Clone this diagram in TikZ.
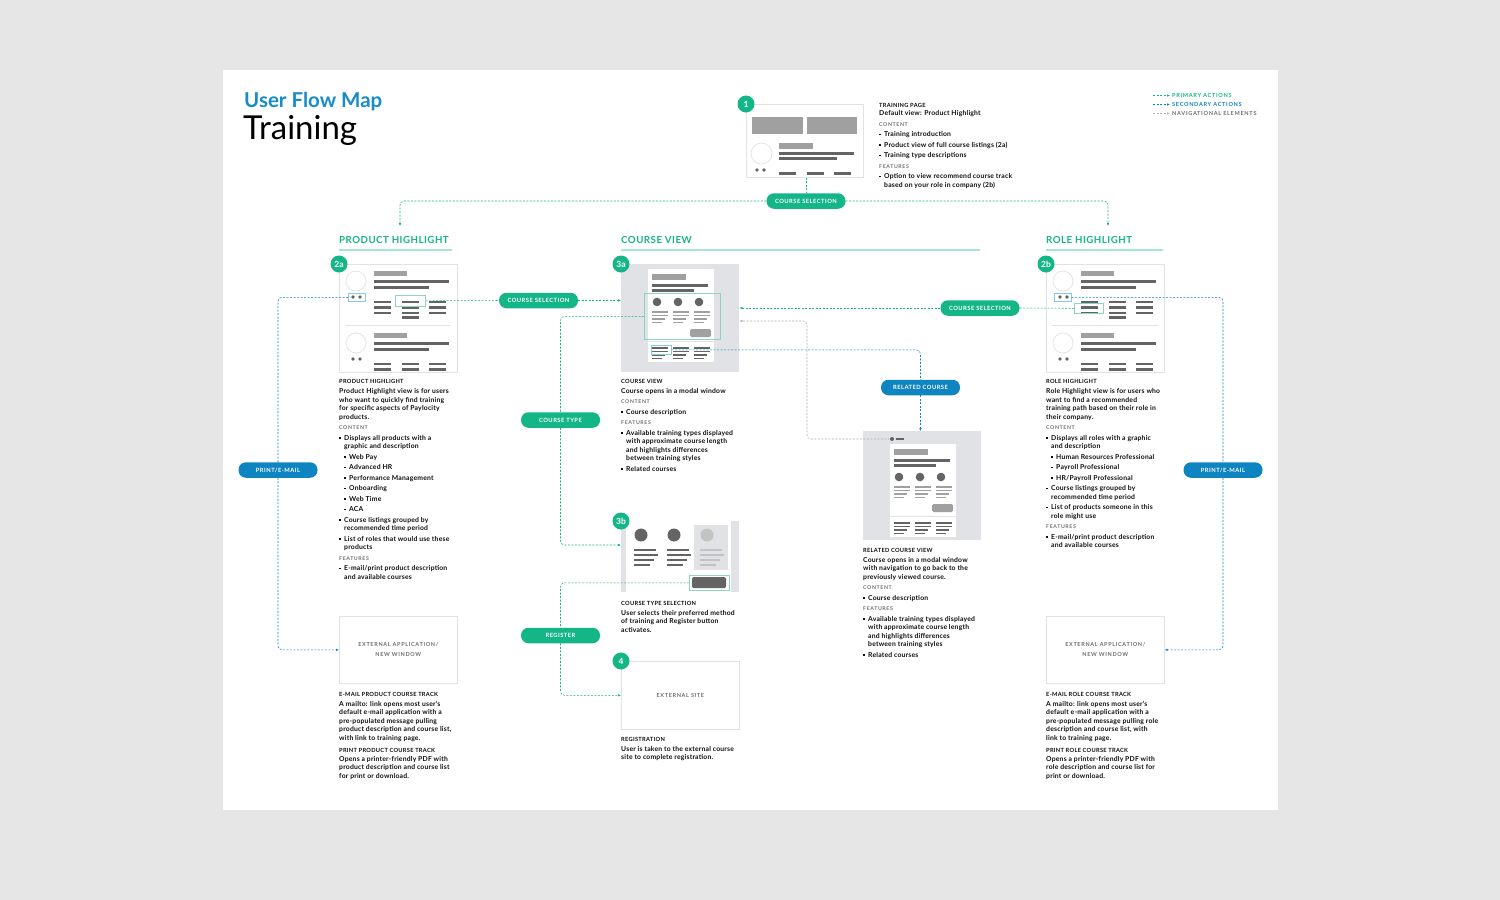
\documentclass[tikz,border=0pt]{standalone}
\usepackage{fontspec}
\setmainfont{Lato}
\newfontfamily\bodyfont[LetterSpace=3]{Lato}
\newfontfamily\capsfont[LetterSpace=5]{Lato}
\newfontfamily\pillfont[LetterSpace=8]{Lato}
\newfontfamily\widecapsfont[LetterSpace=12]{Lato}
\usetikzlibrary{arrows.meta,positioning,calc}
\definecolor{bggray}{RGB}{230,230,230}
\definecolor{flowgreen}{RGB}{20,181,134}
\definecolor{flowblue}{RGB}{14,132,192}
\definecolor{titleblue}{RGB}{22,140,200}
\definecolor{navgray}{RGB}{175,175,175}
\definecolor{mockdark}{RGB}{100,100,100}
\definecolor{mockmid}{RGB}{160,160,160}
\definecolor{mocklite}{RGB}{195,195,195}
\definecolor{mockring}{RGB}{228,228,228}
\definecolor{pageline}{RGB}{226,226,226}
\definecolor{modalbg}{RGB}{225,226,230}
\definecolor{headline}{RGB}{165,230,210}
\definecolor{labelgray}{RGB}{112,112,112}
\definecolor{extgray}{RGB}{110,110,110}
\definecolor{textdark}{RGB}{15,15,15}
\definecolor{hlgreen}{RGB}{140,215,195}
\definecolor{hlblue}{RGB}{140,200,230}

\newcommand{\bl}{\makebox[5pt][l]{\rule[1.5pt]{1.7pt}{1.7pt}}}
\newcommand{\ind}{\hspace*{5pt}}
\newcommand{\nx}{\\[2pt]}
\newcommand{\blockhead}[1]{{\capsfont\bfseries\fontsize{5.7}{8.5}\selectfont #1}}
\newcommand{\blocklabel}[1]{{\widecapsfont\bfseries\fontsize{5.2}{8.5}\selectfont\color{labelgray}#1}}

\newcommand{\hlmock}{%
  \foreach \rowy/\nbars in {0/3,62/2}{%
    \draw[mockring, line width=0.8pt] (17,17+\rowy) circle (10pt);
    \fill[mockdark] (14,33+\rowy) circle (1.8pt) (21,33+\rowy) circle (1.8pt);
    \fill[mockmid] (35,7+\rowy) rectangle (68,12+\rowy);
    \fill[mockdark] (35,16+\rowy) rectangle (110,18.5+\rowy);
    \fill[mockdark] (35,22+\rowy) rectangle (90,24.5+\rowy);
    \foreach \cx in {35,63,90}
      \foreach \bi in {1,...,\nbars}
        \fill[mockdark] (\cx,31+5.5*\bi+\rowy) rectangle ++(17,2.8);
  }
  \fill[mockdark] (63,52) rectangle ++(17,2.8);
  \draw[mockring, line width=0.8pt] (6,61) -- (112,61);
}

\newcommand{\modalcard}{%
  \fill[white] (0,0) rectangle (66,93);
  \fill[mockmid] (4,5) rectangle (38,11);
  \fill[mockdark] (4,15) rectangle (60,17.5);
  \fill[mockdark] (4,20) rectangle (46,22.5);
  \foreach \cx in {4,25,46}{%
    \fill[mockdark] (\cx+5,33) circle (4.3pt);
    \foreach \ly/\lw in {42/16,45.5/16,49/13,52.5/10}
      \fill[mockmid] (\cx,\ly) rectangle ++(\lw,1.8);
    \foreach \ly/\lw in {78/16,81.5/16,85/13,88.5/10}
      \fill[mockdark] (\cx,\ly) rectangle ++(\lw,1.8);
  }
  \fill[mockmid, rounded corners=1.5pt] (42,60) rectangle (63,68);
  \draw[modalbg, line width=0.8pt] (0,72) -- (66,72);
}

\begin{document}
\begin{tikzpicture}[x=1pt, y=-1pt,
  pagebox/.style={draw=pageline, line width=0.7pt, fill=white, anchor=north west, inner sep=0pt},
  modalbox/.style={fill=modalbg, anchor=north west, inner sep=0pt},
  badge/.style={circle, fill=flowgreen, text=white, minimum size=17pt, inner sep=0pt,
                font=\bfseries\fontsize{8.5}{9}\selectfont},
  pill/.style={rounded corners=7.5pt, minimum width=79pt, minimum height=15.5pt, inner sep=0pt,
               text=white, font=\pillfont\bfseries\fontsize{5.8}{6}\selectfont},
  sechead/.style={anchor=base west, inner sep=0pt, text=flowgreen,
                  font=\capsfont\bfseries\fontsize{9.7}{11}\selectfont},
  headrule/.style={draw=headline, line width=1.2pt},
  desc/.style={anchor=north west, align=left, inner sep=0pt, text=textdark,
               font=\bodyfont\bfseries\fontsize{6.8}{8.5}\selectfont},
  hlbox/.style={draw, line width=0.6pt, anchor=north west, inner sep=0pt},
  extlabel/.style={align=center, text=extgray, font=\widecapsfont\bfseries\fontsize{5.5}{10}\selectfont},
  flow/.style={dash pattern=on 2pt off 1.5pt, line width=0.55pt, rounded corners=4pt},
  primary/.style={flow, draw=flowgreen},
  secondary/.style={flow, draw=flowblue},
  navigation/.style={flow, draw=navgray},
  tip/.style={-{Latex[length=3pt,width=2.6pt]}},
  legend/.style={anchor=west, inner sep=0pt, font=\widecapsfont\bfseries\fontsize{5.6}{6}\selectfont}
]
\useasboundingbox (0,0) rectangle (1500,900);
\fill[bggray] (0,0) rectangle (1500,900);
\fill[white] (223,70) rectangle (1278,810);

\node[anchor=base west, inner sep=0pt, text=titleblue, font=\bfseries\fontsize{20.5}{24}\selectfont]
  (title) at (244,107) {User Flow Map};
\node[anchor=base west, inner sep=0pt, text=black, font=\fontsize{33}{38}\selectfont]
  (subtitle) at (243,139) {Training};

\node[legend, text=flowgreen] (lg-primary) at (1172,95.5) {PRIMARY ACTIONS};
\node[legend, text=flowblue] (lg-secondary) at (1172,104.5) {SECONDARY ACTIONS};
\node[legend, text=labelgray] (lg-nav) at (1172,113.5) {NAVIGATIONAL ELEMENTS};
\coordinate (lg-p0) at (1153,95.5);
\coordinate (lg-s0) at (1153,104.5);
\coordinate (lg-n0) at (1153,113.5);
\draw[primary, tip, shorten >=2pt] (lg-p0) -- (lg-primary.west);
\draw[secondary, tip, shorten >=2pt] (lg-s0) -- (lg-secondary.west);
\draw[navigation, tip, shorten >=2pt] (lg-n0) -- (lg-nav.west);

% training page
\node[pagebox, minimum width=117pt, minimum height=73pt] (tp) at (746,104) {};
\begin{scope}[shift={(746,104)}]
  \fill[mockmid] (6,13) rectangle (57,30);
  \fill[mockmid] (61,13) rectangle (111,30);
  \draw[mockring, line width=0.8pt] (15.5,49.5) circle (10.5pt);
  \fill[mockdark] (11,66) circle (1.8pt) (18,66) circle (1.8pt);
  \fill[mockmid] (33,39) rectangle (67,45);
  \fill[mockdark] (33,48) rectangle (108,50.5);
  \fill[mockdark] (33,53) rectangle (91,55.5);
  \foreach \cx in {33,61,88} \fill[mockdark] (\cx,68) rectangle ++(17,2.5);
\end{scope}
\node[badge] (b1) at (tp.north west) {1};
\node[desc] (tp-txt) at (879,103) {\blockhead{TRAINING PAGE}\\
  Default view: Product Highlight\nx
  \blocklabel{CONTENT}\nx
  \bl Training introduction\nx
  \bl Product view of full course listings (2a)\nx
  \bl Training type descriptions\nx
  \blocklabel{FEATURES}\nx
  \bl Option to view recommend course track\\
  \ind based on your role in company (2b)};

% section headers
\node[sechead] (hd-ph) at (339,243.5) {PRODUCT HIGHLIGHT};
\draw[headrule] (339,250) -- (452,250);
\node[sechead] (hd-cv) at (621,243.5) {COURSE VIEW};
\draw[headrule] (621,250) -- (980,250);
\node[sechead] (hd-rh) at (1046,243.5) {ROLE HIGHLIGHT};
\draw[headrule] (1046,250) -- (1163,250);

% product highlight
\node[pagebox, minimum width=118pt, minimum height=108pt] (ph) at (339,264) {};
\begin{scope}[shift={(339,264)}] \hlmock \end{scope}
\node[badge] (b2a) at (ph.north west) {2a};
\node[hlbox, draw=hlblue, minimum width=17pt, minimum height=8pt] (ph-share) at (348,293) {};
\node[hlbox, draw=hlgreen, minimum width=30pt, minimum height=11pt] (ph-course) at (395,295) {};
\node[desc] (ph-txt) at (339,379.5) {\blockhead{PRODUCT HIGHLIGHT}\\[1.5pt]
  Product Highlight view is for users\\
  who want to quickly find training\\
  for specific aspects of Paylocity\\
  products.\nx
  \blocklabel{CONTENT}\nx
  \bl Displays all products with a\\
  \ind graphic and description\nx
  \ind\bl Web Pay\nx
  \ind\bl Advanced HR\nx
  \ind\bl Performance Management\nx
  \ind\bl Onboarding\nx
  \ind\bl Web Time\nx
  \ind\bl ACA\nx
  \bl Course listings grouped by\\
  \ind recommended time period\nx
  \bl List of roles that would use these\\
  \ind products\nx
  \blocklabel{FEATURES}\nx
  \bl E-mail/print product description\\
  \ind and available courses};

% course view
\node[modalbox, minimum width=118pt, minimum height=108pt] (cv) at (621,264) {};
\begin{scope}[shift={(648,269)}] \modalcard \end{scope}
\node[badge] (b3a) at (cv.north west) {3a};
\node[hlbox, draw=hlgreen, minimum width=76pt, minimum height=46pt] (cv-types) at (644,293) {};
\node[hlbox, draw=hlblue, minimum width=20pt, minimum height=9pt] (cv-related) at (651,345) {};
\node[desc] (cv-txt) at (621,379.5) {\blockhead{COURSE VIEW}\\[1pt]
  Course opens in a modal window\nx
  \blocklabel{CONTENT}\nx
  \bl Course description\nx
  \blocklabel{FEATURES}\nx
  \bl Available training types displayed\\
  \ind with approximate course length\\
  \ind and highlights differences\\
  \ind between training styles\nx
  \bl Related courses};

% role highlight
\node[pagebox, minimum width=118pt, minimum height=108pt] (rh) at (1046,264) {};
\begin{scope}[shift={(1046,264)}] \hlmock \end{scope}
\node[badge] (b2b) at (rh.north west) {2b};
\node[hlbox, draw=hlblue, minimum width=17pt, minimum height=8pt] (rh-share) at (1054,293) {};
\node[hlbox, draw=hlgreen, minimum width=29pt, minimum height=10pt] (rh-course) at (1074,303) {};
\node[desc] (rh-txt) at (1046,379.5) {\blockhead{ROLE HIGHLIGHT}\\[1.5pt]
  Role Highlight view is for users who\\
  want to find a recommended\\
  training path based on their role in\\
  their company.\nx
  \blocklabel{CONTENT}\nx
  \bl Displays all roles with a graphic\\
  \ind and description\nx
  \ind\bl Human Resources Professional\nx
  \ind\bl Payroll Professional\nx
  \ind\bl HR/Payroll Professional\nx
  \bl Course listings grouped by\\
  \ind recommended time period\nx
  \bl List of products someone in this\\
  \ind role might use\nx
  \blocklabel{FEATURES}\nx
  \bl E-mail/print product description\\
  \ind and available courses};

% related course
\node[modalbox, minimum width=118pt, minimum height=109pt] (rc) at (863,431) {};
\begin{scope}[shift={(890,444)}] \modalcard \end{scope}
\node[circle, fill=mockdark, inner sep=0pt, minimum size=4pt] (rc-back) at (892,439) {};
\fill[mockdark] (896,438) rectangle (904,440);
\node[desc] (rc-txt) at (863,548.5) {\blockhead{RELATED COURSE VIEW}\\[1pt]
  Course opens in a modal window\\
  with navigation to go back to the\\
  previously viewed course.\nx
  \blocklabel{CONTENT}\nx
  \bl Course description\nx
  \blocklabel{FEATURES}\nx
  \bl Available training types displayed\\
  \ind with approximate course length\\
  \ind and highlights differences\\
  \ind between training styles\nx
  \bl Related courses};

% course type selection
\node[modalbox, minimum width=118pt, minimum height=71pt] (ct) at (621,521) {};
\begin{scope}[shift={(621,521)}]
  \fill[white] (5,0) rectangle (110,71);
  \fill[modalbg] (73,4) rectangle (107,49);
  \foreach \cx/\cc in {13/mockdark,46/mockdark,79/mocklite}{%
    \fill[\cc] (\cx+7,14) circle (6.5pt);
    \foreach \ly/\lw in {28/22,33/24,38/20,43/16}
      \fill[\cc] (\cx,\ly) rectangle ++(\lw,2);
  }
  \fill[mockdark, rounded corners=1.5pt] (71,56) rectangle (105,67);
\end{scope}
\node[badge] (b3b) at (ct.north west) {3b};
\node[hlbox, draw=hlgreen, minimum width=40pt, minimum height=15pt] (ct-register) at (689,575) {};
\node[desc] (ct-txt) at (621,601.5) {\blockhead{COURSE TYPE SELECTION}\\[1pt]
  User selects their preferred method\\
  of training and Register button\\
  activates.};

% external site
\node[pagebox, extlabel, minimum width=118pt, minimum height=68pt] (es) at (621,661) {EXTERNAL SITE};
\node[badge] (b4) at (es.north west) {4};
\node[desc] (es-txt) at (621,737.5) {\blockhead{REGISTRATION}\\[1pt]
  User is taken to the external course\\
  site to complete registration.};

% external applications
\node[pagebox, extlabel, minimum width=118pt, minimum height=67pt] (ext-ph) at (339,616)
  {EXTERNAL APPLICATION/\\NEW WINDOW};
\node[desc] (ext-ph-txt) at (339,692.5) {\blockhead{E-MAIL PRODUCT COURSE TRACK}\\[1pt]
  A mailto: link opens most user’s\\
  default e-mail application with a\\
  pre-populated message pulling\\
  product description and course list,\\
  with link to training page.\\[4pt]
  \blockhead{PRINT PRODUCT COURSE TRACK}\\
  Opens a printer-friendly PDF with\\
  product description and course list\\
  for print or download.};
\node[pagebox, extlabel, minimum width=118pt, minimum height=67pt] (ext-rh) at (1046,616)
  {EXTERNAL APPLICATION/\\NEW WINDOW};
\node[desc] (ext-rh-txt) at (1046,692.5) {\blockhead{E-MAIL ROLE COURSE TRACK}\\[1pt]
  A mailto: link opens most user’s\\
  default e-mail application with a\\
  pre-populated message pulling role\\
  description and course list, with\\
  link to training page.\\[4pt]
  \blockhead{PRINT ROLE COURSE TRACK}\\
  Opens a printer-friendly PDF with\\
  role description and course list for\\
  print or download.};

% actions
\node[pill, fill=flowgreen] (sel-top) at (806,201) {COURSE SELECTION};
\node[pill, fill=flowgreen] (sel-ph) at (538.5,300.5) {COURSE SELECTION};
\node[pill, fill=flowgreen] (sel-rh) at (980,308) {COURSE SELECTION};
\node[pill, fill=flowgreen] (type) at (560.5,420) {COURSE TYPE};
\node[pill, fill=flowgreen] (register) at (560.5,635.5) {REGISTER};
\node[pill, fill=flowblue] (related) at (920.5,387.5) {RELATED COURSE};
\node[pill, fill=flowblue] (print-ph) at (278,470) {PRINT/E-MAIL};
\node[pill, fill=flowblue] (print-rh) at (1223,470) {PRINT/E-MAIL};

\coordinate (ph-in) at (400,226);
\coordinate (rh-in) at (1108,226);
\coordinate (ct-in) at (621,545);
\coordinate (nav-turn) at (807,321);

\draw[primary] (tp.south -| sel-top) -- (sel-top.north);
\draw[primary, tip] (sel-top.west) -| (ph-in);
\draw[primary, tip] (sel-top.east) -| (rh-in);
\draw[primary] (ph-course.east) -- (sel-ph.west);
\draw[primary, tip] (sel-ph.east) -- (sel-ph.east -| cv.west);
\draw[primary] (rh-course.west) -- (sel-rh.east);
\draw[primary, tip] (sel-rh.west) -- (sel-rh.west -| cv.east);
\draw[navigation, tip] (rc-back.west) -| (nav-turn) -- (nav-turn -| cv.east);
\draw[secondary] (cv-related.east) -| (related.north);
\draw[secondary, tip] (related.south) -- (related.south |- rc.north);
\draw[primary] (cv-types.west) -| (type.north);
\draw[primary, tip] (type.south) |- (ct-in);
\draw[primary] (ct-register.west) -| (register.north);
\draw[primary, tip] (register.south) |- (es.west);
\draw[secondary] (ph-share.west) -| (print-ph.north);
\draw[secondary, tip] (print-ph.south) |- (ext-ph.west);
\draw[secondary] (rh-share.east) -| (print-rh.north);
\draw[secondary, tip] (print-rh.south) |- (ext-rh.east);
\end{tikzpicture}
\end{document}
